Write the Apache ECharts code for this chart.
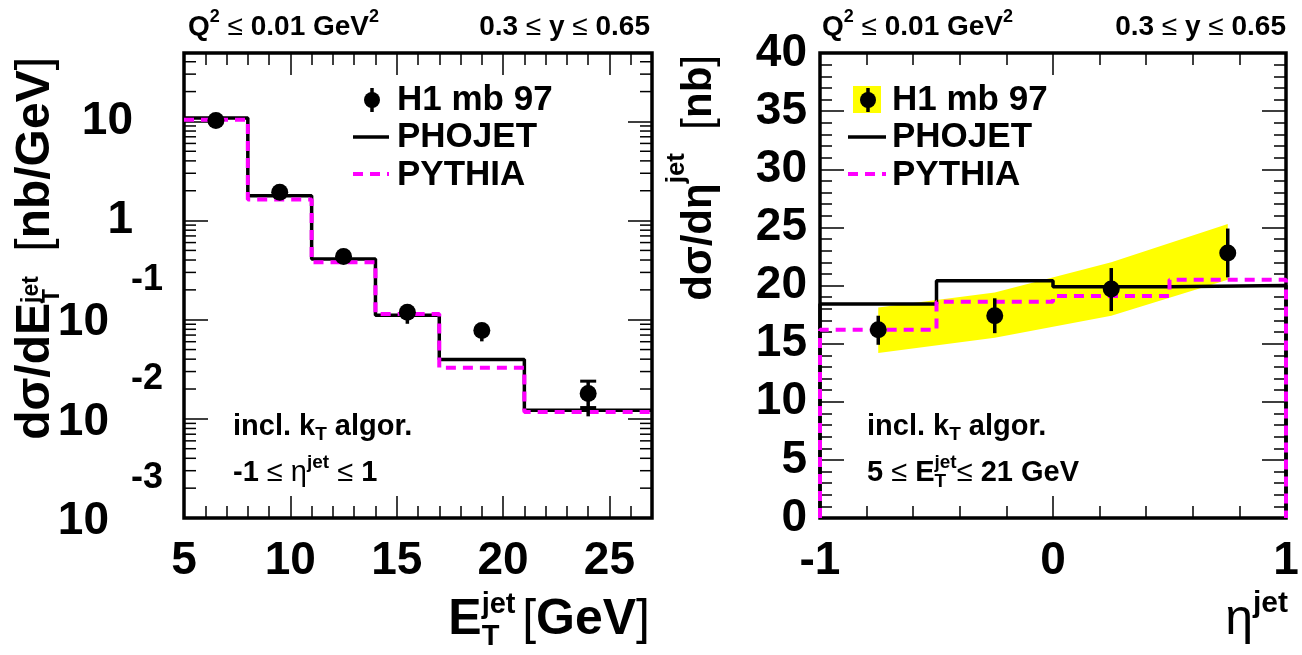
<!DOCTYPE html>
<html><head><meta charset="utf-8">
<script src="https://cdn.jsdelivr.net/npm/echarts@6/dist/echarts.min.js"></script>
<style>html,body{margin:0;padding:0;background:#fff}#c{width:1302px;height:655px}</style>
</head><body><div id="c"></div><script>
// ---------- Left panel: dσ/dE_T^jet (log scale) ----------
const etBinEdges = [5, 8, 11, 14, 17, 21, 27];
const etPhojet   = [10.8, 1.78, 0.41, 0.111, 0.0396, 0.0122];
const etPythia   = [10.4, 1.63, 0.38, 0.114, 0.0327, 0.0117];
const etH1X      = [6.5, 9.5, 12.5, 15.5, 19, 24];
const etH1       = [10.2, 1.93, 0.435, 0.119, 0.078, 0.018];
const etH1Lo     = [9.7, 1.84, 0.415, 0.091, 0.0605, 0.0106];
const etH1Hi     = [10.7, 2.02, 0.455, 0.13, 0.088, 0.024];
const etH1CapLo  = [null, null, null, null, null, 0.013];
const etH1CapHi  = [null, null, null, null, null, 0.024];
const etYTickValues = [0.001, 0.01, 0.1, 1, 10];
const etYTickBase   = ['10', '10', '10', '1', '10'];
const etYTickExp    = ['-3', '-2', '-1', '', ''];
const etYMinorMantissa = [2, 3, 4, 5, 6, 7, 8, 9];

// ---------- Right panel: dσ/dη^jet ----------
const etaBinEdges = [-1, -0.5, 0, 0.5, 1];
const etaPhojet = [18.4, 20.4, 19.9, 20.0];
const etaPythia = [16.2, 18.6, 19.1, 20.5];
const etaH1X    = [-0.75, -0.25, 0.25, 0.75];
const etaH1     = [16.2, 17.4, 19.7, 22.8];
const etaH1Lo   = [14.9, 15.9, 17.8, 20.7];
const etaH1Hi   = [17.4, 18.9, 21.5, 24.9];
const etaBandLo = [14.2, 15.5, 17.4, 20.5];
const etaBandHi = [18.1, 19.4, 22.0, 25.3];

const FF = '"Liberation Sans", Arial, Helvetica, sans-serif';
const MAG = '#ff00ff';
const ctx = document.createElement('canvas').getContext('2d');
function fnt(s, wt) { return (wt || 'bold') + ' ' + s + 'px ' + FF; }
function tw(t, s, wt) { ctx.font = fnt(s, wt); return ctx.measureText(t).width; }
function compose(pieces, x0, y0, align) {
  const widths = pieces.map(p => p.stack ? Math.max.apply(null, p.stack.map(q => tw(q.t, q.s, q.wt))) : tw(p.t, p.s, p.wt));
  const total = widths.reduce((a, b) => a + b, 0);
  let x = align === 'right' ? x0 - total : align === 'center' ? x0 - total / 2 : x0;
  const els = [];
  pieces.forEach((p, i) => {
    (p.stack || [p]).forEach(q => els.push({
      type: 'text', x: x, y: y0 + (q.dy || 0),
      style: { text: q.t, font: fnt(q.s, q.wt), fill: '#000', align: 'left', verticalAlign: 'middle' }
    }));
    x += widths[i];
  });
  return els;
}
function histPts(edges, vals, floor) {
  const pts = [];
  if (floor != null) pts.push([edges[0], floor]);
  vals.forEach((v, i) => { pts.push([edges[i], v]); pts.push([edges[i + 1], v]); });
  if (floor != null) pts.push([edges[edges.length - 1], floor]);
  return pts;
}
function errSeries(xi, yi, xs, ys, lo, hi, capLo, capHi) {
  return {
    type: 'custom', xAxisIndex: xi, yAxisIndex: yi, z: 5, silent: true,
    data: xs.map((x, i) => [x, ys[i], lo[i], hi[i]]),
    renderItem: function (params, api) {
      const i = params.dataIndex, x = api.value(0);
      const a = api.coord([x, api.value(2)]), b = api.coord([x, api.value(3)]);
      const ch = [{ type: 'line', shape: { x1: a[0], y1: a[1], x2: b[0], y2: b[1] }, style: { stroke: '#000', lineWidth: 3.5 } }];
      [capLo ? capLo[i] : null, capHi ? capHi[i] : null].forEach(c => {
        if (c != null) {
          const p = api.coord([x, c]);
          ch.push({ type: 'line', shape: { x1: p[0] - 8, y1: p[1], x2: p[0] + 8, y2: p[1] }, style: { stroke: '#000', lineWidth: 3 } });
        }
      });
      return { type: 'group', children: ch };
    }
  };
}
const tickStyle = { color: '#000', width: 1.5 };
function xAx(grid, min, max, interval, pos, len, labels) {
  return {
    type: 'value', gridIndex: grid, min: min, max: max, interval: interval, position: pos,
    axisLine: { show: false, onZero: false }, splitLine: { show: false },
    axisTick: { show: true, inside: true, length: len, lineStyle: tickStyle },
    axisLabel: labels ? Object.assign({ show: true, fontSize: 46, fontWeight: 'bold', fontFamily: FF, color: '#000', margin: 20, showMaxLabel: labels.showMax !== false }, labels.extra || {}) : { show: false }
  };
}
function yAx(grid, type, min, max, interval, pos, len, labels) {
  const o = xAx(grid, min, max, interval, pos, len, labels);
  o.type = type;
  if (type === 'log') { o.logBase = 10; }
  return o;
}

// left y-axis label (ROOT style 10^n)
const etYLabel = {
  showMax: false,
  extra: {
    margin: 21,
    formatter: function (v) {
      const k = Math.round(Math.log10(v));
      const i = etYTickValues.findIndex(t => Math.abs(Math.log10(t) - k) < 1e-6 && Math.abs(Math.log10(v) - k) < 1e-6);
      if (i < 0) return '';
      if (!etYTickExp[i]) return '{n|' + etYTickBase[i] + '}';
      return '{b|' + etYTickBase[i] + '}{e|' + etYTickExp[i] + '}';
    },
    rich: {
      n: { fontSize: 46, fontWeight: 'bold', fontFamily: FF, color: '#000', padding: [0, 30, 0, 0] },
      b: { fontSize: 46, fontWeight: 'bold', fontFamily: FF, color: '#000', padding: [6, 0, 0, 0] },
      e: { fontSize: 36, fontWeight: 'bold', fontFamily: FF, color: '#000', padding: [0, 0, 80, 22] }
    }
  }
};

const etMinorVals = [];
[-3, -2, -1, 0, 1].forEach(k => etYMinorMantissa.forEach(m => { const v = m * Math.pow(10, k); if (v < 49) etMinorVals.push(v); }));

const option = {
  animation: false,
  backgroundColor: '#fff',
  grid: [
    { left: 184, top: 53, width: 468, height: 465, show: true, borderColor: '#000', borderWidth: 3.5, backgroundColor: 'transparent', outerBoundsMode: 'none', containLabel: false },
    { left: 820, top: 53, width: 466, height: 465, show: true, borderColor: '#000', borderWidth: 3.5, backgroundColor: 'transparent', outerBoundsMode: 'none', containLabel: false }
  ],
  xAxis: [
    xAx(0, 5, 27, 5, 'bottom', 22, { showMax: false }),
    xAx(0, 5, 27, 1, 'bottom', 12, null),
    xAx(0, 5, 27, 5, 'top', 22, null),
    xAx(0, 5, 27, 1, 'top', 12, null),
    xAx(1, -1, 1, 1, 'bottom', 22, {}),
    xAx(1, -1, 1, 0.2, 'bottom', 12, null),
    xAx(1, -1, 1, 1, 'top', 22, null),
    xAx(1, -1, 1, 0.2, 'top', 12, null)
  ],
  yAxis: [
    yAx(0, 'log', 0.001, 49, 1, 'left', 24, etYLabel),
    yAx(0, 'log', 0.001, 49, 1, 'right', 24, null),
    yAx(1, 'value', 0, 40, 5, 'left', 24, { extra: { margin: 13 } }),
    yAx(1, 'value', 0, 40, 1, 'left', 12, null),
    yAx(1, 'value', 0, 40, 5, 'right', 24, null),
    yAx(1, 'value', 0, 40, 1, 'right', 12, null)
  ],
  series: [
    // left: minor log ticks on both sides
    {
      type: 'custom', xAxisIndex: 0, yAxisIndex: 0, silent: true, z: 3,
      data: etMinorVals.map(v => [etBinEdges[0], v]),
      renderItem: function (params, api) {
        const v = api.value(1);
        const p = api.coord([etBinEdges[0], v]), q = api.coord([etBinEdges[etBinEdges.length - 1], v]);
        return { type: 'group', children: [
          { type: 'line', shape: { x1: p[0], y1: p[1], x2: p[0] + 12, y2: p[1] }, style: { stroke: '#000', lineWidth: 1.5 } },
          { type: 'line', shape: { x1: q[0] - 12, y1: q[1], x2: q[0], y2: q[1] }, style: { stroke: '#000', lineWidth: 1.5 } }
        ] };
      }
    },
    { name: 'PHOJET', type: 'line', xAxisIndex: 0, yAxisIndex: 0, data: histPts(etBinEdges, etPhojet), symbol: 'none', clip: false, z: 3,
      lineStyle: { color: '#000', width: 3.5 } },
    { name: 'PYTHIA', type: 'line', xAxisIndex: 0, yAxisIndex: 0, data: histPts(etBinEdges, etPythia), symbol: 'none', clip: false, z: 4,
      lineStyle: { color: MAG, width: 4, type: [10, 7] } },
    errSeries(0, 0, etH1X, etH1, etH1Lo, etH1Hi, etH1CapLo, etH1CapHi),
    { name: 'H1 mb 97', type: 'scatter', xAxisIndex: 0, yAxisIndex: 0, data: etH1X.map((x, i) => [x, etH1[i]]), symbol: 'circle', symbolSize: 17, z: 6,
      itemStyle: { color: '#000', opacity: 1 } },

    // right: band
    {
      type: 'custom', xAxisIndex: 4, yAxisIndex: 2, silent: true, z: 1, data: [[etaH1X[0], etaBandLo[0]]],
      renderItem: function (params, api) {
        const pts = [];
        etaH1X.forEach((x, i) => pts.push(api.coord([x, etaBandHi[i]])));
        for (let i = etaH1X.length - 1; i >= 0; i--) pts.push(api.coord([etaH1X[i], etaBandLo[i]]));
        return { type: 'polygon', shape: { points: pts }, style: { fill: '#ffff00' } };
      }
    },
    { name: 'PHOJET', type: 'line', xAxisIndex: 4, yAxisIndex: 2, data: histPts(etaBinEdges, etaPhojet, 0), symbol: 'none', clip: false, z: 3,
      lineStyle: { color: '#000', width: 3.5 } },
    { name: 'PYTHIA', type: 'line', xAxisIndex: 4, yAxisIndex: 2, data: histPts(etaBinEdges, etaPythia, 0), symbol: 'none', clip: false, z: 4,
      lineStyle: { color: MAG, width: 4, type: [10, 7] } },
    errSeries(4, 2, etaH1X, etaH1, etaH1Lo, etaH1Hi, null, null),
    { name: 'H1 mb 97', type: 'scatter', xAxisIndex: 4, yAxisIndex: 2, data: etaH1X.map((x, i) => [x, etaH1[i]]), symbol: 'circle', symbolSize: 17, z: 6,
      itemStyle: { color: '#000', opacity: 1 } }
  ]
};

// ---------- texts (titles, legends, annotations) ----------
const G = [];
function push(a) { a.forEach(e => G.push(e)); }
const S = 28, SS = 18;
function qText(x) { return compose([{ t: 'Q', s: S }, { t: '2', s: SS, dy: -10 }, { t: ' ≤ ', s: S, wt: 'normal' }, { t: '0.01 GeV', s: S }, { t: '2', s: SS, dy: -10 }], x, 27, 'left'); }
function yText(x) { return compose([{ t: '0.3 ', s: S }, { t: '≤', s: S, wt: 'normal' }, { t: ' y ', s: S }, { t: '≤', s: S, wt: 'normal' }, { t: ' 0.65', s: S }], x, 27, 'right'); }
push(qText(188)); push(yText(650)); push(qText(822)); push(yText(1286));

// x titles
push(compose([{ t: 'E', s: 50 }, { stack: [{ t: 'jet', s: 29, dy: -15 }, { t: 'T', s: 29, dy: 17 }] }, { t: ' ', s: 24 },
  { t: '[', s: 50, wt: 'normal' }, { t: 'GeV', s: 50 }, { t: ']', s: 50, wt: 'normal' }], 650, 620, 'right'));
push(compose([{ t: 'η', s: 50, wt: 'normal' }, { t: 'jet', s: 30, dy: -16 }], 1288, 620, 'right'));

// y titles (rotated)
G.push({ type: 'group', x: 36, y: 57, rotation: Math.PI / 2, children:
  compose([{ t: 'dσ/dE', s: 48 }, { stack: [{ t: 'jet', s: 23, dy: -4 }, { t: 'T', s: 23, dy: 17 }] }, { t: '  ', s: 44 },
    { t: '[', s: 48, wt: 'normal' }, { t: 'nb/GeV', s: 48 }, { t: ']', s: 48, wt: 'normal' }], 0, 0, 'right') });
G.push({ type: 'group', x: 699, y: 55, rotation: Math.PI / 2, children:
  compose([{ t: 'dσ/dη', s: 42 }, { t: 'jet', s: 26, dy: -22 }, { t: '  ', s: 42 },
    { t: '[', s: 42, wt: 'normal' }, { t: 'nb', s: 42 }, { t: ']', s: 42, wt: 'normal' }], 0, 0, 'right') });

// legends
function legend(x0, textX, withBox, lx1, lx2) {
  if (withBox) G.push({ type: 'rect', shape: { x: 853, y: 86, width: 28, height: 27 }, style: { fill: '#ffff00' } });
  G.push({ type: 'line', shape: { x1: x0, y1: 88, x2: x0, y2: 112 }, style: { stroke: '#000', lineWidth: 3.5 } });
  G.push({ type: 'circle', shape: { cx: x0, cy: 100, r: 8 }, style: { fill: '#000' } });
  G.push({ type: 'line', shape: { x1: lx1, y1: 137, x2: lx2, y2: 137 }, style: { stroke: '#000', lineWidth: 3.5 } });
  G.push({ type: 'line', shape: { x1: lx1, y1: 174, x2: lx2, y2: 174 }, style: { stroke: MAG, lineWidth: 4, lineDash: [10, 7] } });
  [['H1 mb 97', 100], ['PHOJET', 137], ['PYTHIA', 175]].forEach(a => G.push({ type: 'text', x: textX, y: a[1],
    style: { text: a[0], font: fnt(35), fill: '#000', align: 'left', verticalAlign: 'middle' } }));
}
legend(372, 397, false, 353, 389);
legend(868, 892, true, 848, 886);

// annotations
const A = 29, AS = 19;
function algo(x) { return compose([{ t: 'incl. k', s: A }, { t: 'T', s: AS, dy: 8 }, { t: ' algor.', s: A }], x, 427, 'left'); }
push(algo(233)); push(algo(867));
push(compose([{ t: '-1 ', s: A }, { t: '≤ η', s: A, wt: 'normal' }, { t: 'jet', s: AS, dy: -10 }, { t: ' ≤ ', s: A, wt: 'normal' }, { t: '1', s: A }], 233, 473, 'left'));
push(compose([{ t: '5 ', s: A }, { t: '≤', s: A, wt: 'normal' }, { t: ' E', s: A }, { stack: [{ t: 'jet', s: AS, dy: -10 }, { t: 'T', s: AS, dy: 9 }] },
  { t: '≤', s: A, wt: 'normal' }, { t: ' 21 GeV', s: A }], 867, 473, 'left'));

option.graphic = { elements: G.map(e => Object.assign({ z: 100, silent: true }, e)) };

const chart = echarts.init(document.getElementById('c'), null, { renderer: 'canvas' });
chart.setOption(option);
</script></body></html>
